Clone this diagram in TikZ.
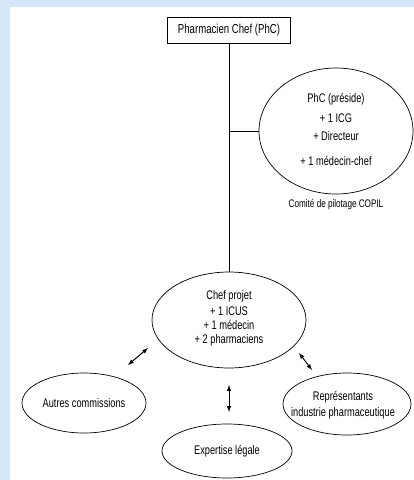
\documentclass[tikz,border=0pt]{standalone}
\usepackage{fontspec}
\setmainfont[FakeStretch=0.74]{Liberation Sans}
\usetikzlibrary{shapes.geometric}
\tikzset{>=latex}
\definecolor{fond}{RGB}{214,230,250}

\begin{document}
\begin{tikzpicture}[x=1pt, y=-1pt, line width=0.7pt,
    bulle/.style={draw, ellipse, inner sep=0pt},
    texte/.style={align=center, font=\fontsize{12.5}{14}\selectfont},
    fleche/.style={<->, line width=1pt}]
    \fill[fond](0, 0)rectangle(414, 480);
    \fill[white](10, 7)rectangle(414, 480);
    % chef et comite de pilotage
    \node[draw, minimum width=123, minimum height=26, inner sep=0pt, font=\fontsize{13}{14}\selectfont](phc)at(229, 30){Pharmacien Chef (PhC)};
    \node[bulle, minimum width=154, minimum height=126](copil)at(336, 131){};
    \node[texte](copiltxt)at(336, 129){PhC (préside)\\[6pt] + 1 ICG\\[4pt] + Directeur\\[11pt] + 1 médecin-chef};
    \node[font=\fontsize{11}{12}\selectfont](nom)at(336, 205){Comité de pilotage COPIL};
    % groupe projet
    \node[bulle, minimum width=154, minimum height=96](projet)at(229, 320){};
    \node[texte](projettxt)at(229, 318){Chef projet\\[2pt] + 1 ICUS\\ + 1 médecin\\ + 2 pharmaciens};
    \draw(phc)--(projet);
    \draw(copil.west)--(copil.west -| phc);
    % partenaires
    \node[bulle, minimum width=124, minimum height=60](autres)at(84, 403){};
    \node[texte](autrestxt)at(84, 403){Autres commissions};
    \node[bulle, minimum width=130, minimum height=54](expert)at(227, 451){};
    \node[texte](experttxt)at(227, 451){Expertise légale};
    \node[bulle, minimum width=128, minimum height=62](repr)at(347, 404){};
    \node[texte](reprtxt)at(343, 405){Représentants\\[2pt] industrie pharmaceutique};
    \coordinate(g1)at(148, 348); \coordinate(g2)at(128, 365);
    \coordinate(m1)at(229, 385); \coordinate(m2)at(229, 412);
    \coordinate(d1)at(299, 353); \coordinate(d2)at(312, 370);
    \draw[fleche](g1)--(g2);
    \draw[fleche](m1)--(m2);
    \draw[fleche](d1)--(d2);
\end{tikzpicture}
\end{document}
